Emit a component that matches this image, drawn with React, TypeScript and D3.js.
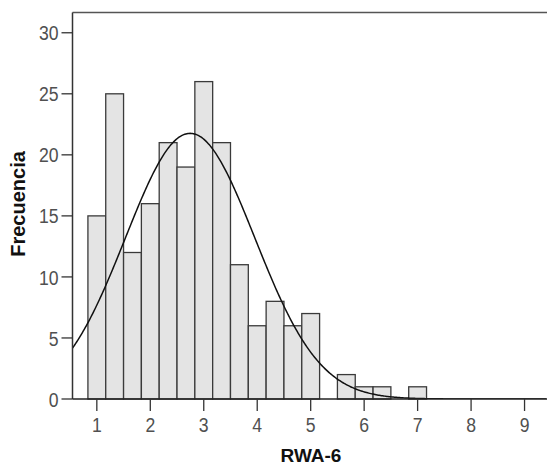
import React from "react";
import * as d3 from "d3";

const binCenters = [1.0, 1.3333, 1.6667, 2.0, 2.3333, 2.6667, 3.0, 3.3333, 3.6667, 4.0, 4.3333, 4.6667, 5.0, 5.6667, 6.0, 6.3333, 7.0];
const counts = [15, 25, 12, 16, 21, 19, 26, 21, 11, 6, 8, 6, 7, 2, 1, 1, 1];
const binWidth = 1 / 3;
const xTicks = [1, 2, 3, 4, 5, 6, 7, 8, 9];
const yTicks = [0, 5, 10, 15, 20, 25, 30];
const normalMean = 2.745;
const normalSd = 1.21;
const xTitle = "RWA-6";
const yTitle = "Frecuencia";

const W = 547;
const H = 465;
const left = 72.5;
const top = 12.5;
const bottom = 399;
const right = 560;

export default function App() {
  const x = d3.scaleLinear().domain([0.545, 9.42]).range([left, 547]);
  const y = d3.scaleLinear().domain([0, 31.66]).range([bottom, top]);
  const n = d3.sum(counts);
  const pdf = (v: number) =>
    (n * binWidth * Math.exp(-0.5 * ((v - normalMean) / normalSd) ** 2)) /
    (normalSd * Math.sqrt(2 * Math.PI));
  const pts = d3.range(0.545, 9.42, 0.02).map((v) => [v, pdf(v)] as [number, number]);
  const line = d3
    .line<[number, number]>()
    .x((d) => x(d[0]))
    .y((d) => y(d[1]))
    .curve(d3.curveLinear);

  const tickFont = "'Liberation Sans', Arial, sans-serif";
  const titleFont = "'Liberation Sans', Arial, sans-serif";
  const sx = 0.84;

  return (
    <svg width={W} height={H} style={{ position: "absolute", left: 0, top: 0 }}>
      <rect x={0} y={0} width={W} height={H} fill="#fff" />
      <defs>
        <clipPath id="plot">
          <rect x={left} y={top} width={right - left} height={bottom - top} />
        </clipPath>
      </defs>
      {binCenters.map((c, i) => (
        <rect
          key={i}
          x={x(c - binWidth / 2)}
          y={y(counts[i])}
          width={x(c + binWidth / 2) - x(c - binWidth / 2)}
          height={y(0) - y(counts[i])}
          fill="#e4e4e4"
          stroke="#3a3a3a"
          strokeWidth={1.3}
        />
      ))}
      <path
        d={line(pts) || ""}
        fill="none"
        stroke="#111"
        strokeWidth={1.5}
        clipPath="url(#plot)"
      />
      <line x1={left} x2={right} y1={top} y2={top} stroke="#555" strokeWidth={1.5} />
      <line x1={left} x2={left} y1={top} y2={bottom} stroke="#333" strokeWidth={1.5} />
      <line x1={left} x2={right} y1={bottom} y2={bottom} stroke="#222" strokeWidth={1.5} />
      {yTicks.map((t) => (
        <g key={t}>
          <line x1={left - 11} x2={left} y1={y(t)} y2={y(t)} stroke="#333" strokeWidth={1.3} />
          <text
            transform={`translate(${left - 14}, ${y(t)}) scale(${sx}, 1)`}
            textAnchor="end"
            dominantBaseline="central"
            fontFamily={tickFont}
            fontSize={21}
            fill="#505050"
          >
            {t}
          </text>
        </g>
      ))}
      {xTicks.map((t) => (
        <g key={t}>
          <line x1={x(t)} x2={x(t)} y1={bottom} y2={bottom + 12} stroke="#333" strokeWidth={1.3} />
          <text
            transform={`translate(${x(t)}, 432) scale(${sx}, 1)`}
            textAnchor="middle"
            fontFamily={tickFont}
            fontSize={21}
            fill="#505050"
          >
            {t}
          </text>
        </g>
      ))}
      <text
        x={311}
        y={462}
        textAnchor="middle"
        fontFamily={titleFont}
        fontWeight="bold"
        fontSize={19}
        fill="#111"
      >
        {xTitle}
      </text>
      <text
        transform={`translate(24.5, 204) rotate(-90)`}
        textAnchor="middle"
        fontFamily={titleFont}
        fontWeight="bold"
        fontSize={20}
        fill="#111"
      >
        {yTitle}
      </text>
    </svg>
  );
}
